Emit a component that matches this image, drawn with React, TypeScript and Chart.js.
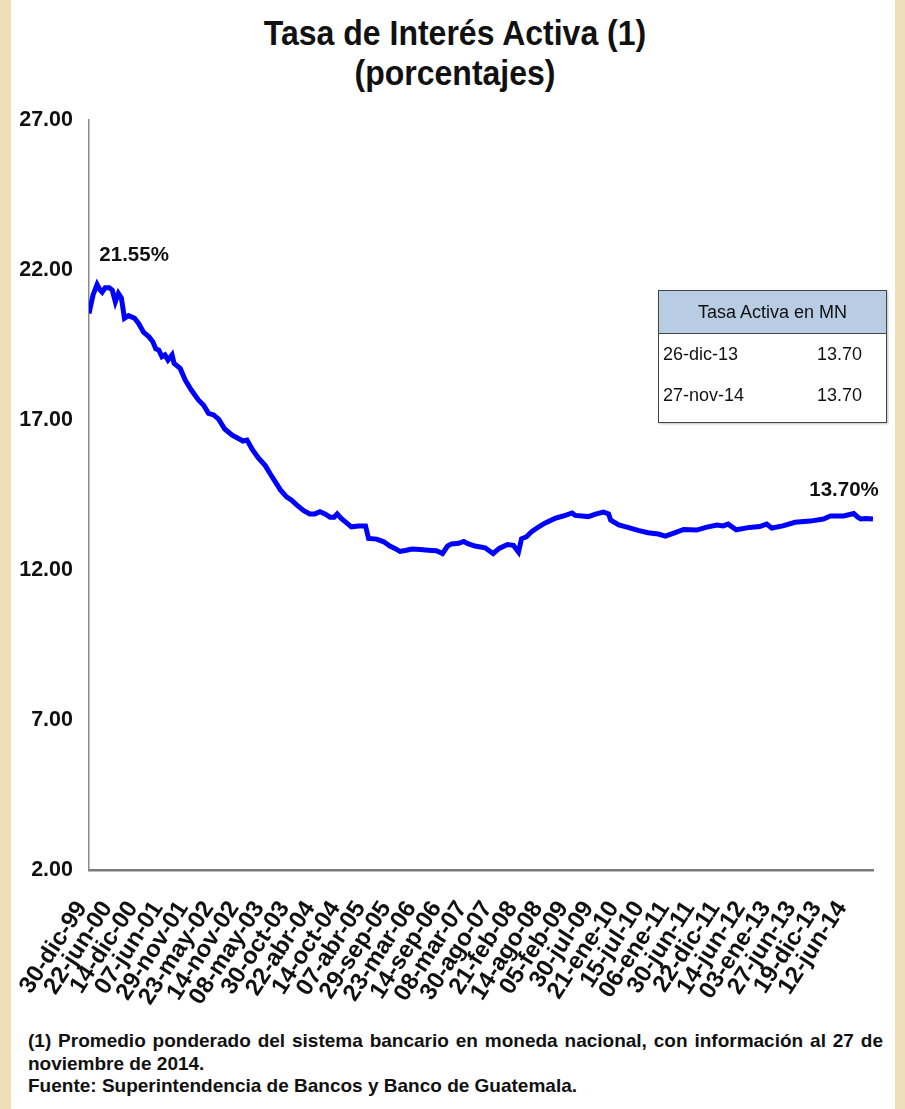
import React, { useEffect, useRef } from "react";
import { Chart, registerables } from "chart.js";

Chart.register(...registerables);

// ---- data ----
const tickLabels = [
  "30-dic-99", "22-jun-00", "14-dic-00", "07-jun-01", "29-nov-01", "23-may-02",
  "14-nov-02", "08-may-03", "30-oct-03", "22-abr-04", "14-oct-04", "07-abr-05",
  "29-sep-05", "23-mar-06", "14-sep-06", "08-mar-07", "30-ago-07", "21-feb-08",
  "14-ago-08", "05-feb-09", "30-jul-09", "21-ene-10", "15-jul-10", "06-ene-11",
  "30-jun-11", "22-dic-11", "14-jun-12", "03-ene-13", "27-jun-13", "19-dic-13",
  "12-jun-14",
];
const weeksPerTick = 25;
const lastWeek = 774;

// week number (since 30-dic-99) of each read point
const weekIndex = [
  0, 4, 8, 11, 13, 16, 20, 23, 26, 29,
  32, 35, 39, 45, 49, 54, 59, 63, 66, 69,
  72, 75, 78, 82, 84, 90, 95, 101, 108, 113,
  118, 123, 128, 134, 141, 147, 152, 156, 161, 167,
  174, 179, 189, 195, 200, 205, 212, 218, 223, 228,
  233, 238, 242, 245, 249, 254, 259, 266, 273, 276,
  284, 291, 297, 302, 307, 312, 319, 327, 335, 343,
  349, 354, 358, 365, 370, 374, 381, 391, 399, 405,
  413, 419, 424, 427, 432, 437, 444, 450, 460, 468,
  477, 480, 493, 500, 508, 513, 515, 523, 532, 542,
  552, 562, 569, 578, 587, 600, 610, 620, 626, 631,
  639, 652, 662, 669, 674, 685, 697, 712, 725, 732,
  745, 755, 759, 762, 767, 774,
];
const rates = [
  20.55, 21.17, 21.52, 21.33, 21.26, 21.41, 21.41, 21.33, 20.94, 21.22,
  21.06, 20.39, 20.48, 20.39, 20.22, 19.92, 19.78, 19.61, 19.37, 19.33,
  19.11, 19.17, 19.0, 19.17, 18.89, 18.72, 18.33, 18.0, 17.67, 17.5,
  17.22, 17.17, 17.03, 16.7, 16.5, 16.39, 16.3, 16.33, 16.03, 15.74,
  15.48, 15.2, 14.67, 14.44, 14.33, 14.17, 13.98, 13.87, 13.87, 13.94,
  13.87, 13.76, 13.76, 13.87, 13.72, 13.58, 13.44, 13.47, 13.47, 13.05,
  13.03, 12.94, 12.8, 12.72, 12.62, 12.65, 12.7, 12.68, 12.66, 12.64,
  12.55, 12.8, 12.87, 12.89, 12.95, 12.88, 12.8, 12.74, 12.55, 12.72,
  12.85, 12.82, 12.6, 13.04, 13.11, 13.28, 13.44, 13.56, 13.72, 13.8,
  13.9, 13.82, 13.78, 13.86, 13.93, 13.87, 13.66, 13.5, 13.42, 13.32,
  13.24, 13.2, 13.13, 13.24, 13.35, 13.33, 13.43, 13.5, 13.47, 13.53,
  13.34, 13.42, 13.45, 13.53, 13.4, 13.47, 13.59, 13.63, 13.7, 13.8,
  13.8, 13.88, 13.76, 13.7, 13.72, 13.7,
];
const yTicks = [2, 7, 12, 17, 22, 27];

const annotWeeks = [8, 774];
const annotValues = [21.55, 13.7];
const annotTexts = ["21.55%", "13.70%"];

const tableTitle = "Tasa Activa en MN";
const tableDates = ["26-dic-13", "27-nov-14"];
const tableValues = ["13.70", "13.70"];

const titleLines = ["Tasa de Interés Activa (1)", "(porcentajes)"];
const noteLines = [
  "(1) Promedio ponderado del sistema bancario en moneda nacional, con información al 27 de",
  "noviembre de 2014.",
  "Fuente: Superintendencia de Bancos y Banco de Guatemala.",
];

const SANS = '"Liberation Sans", Arial, Helvetica, sans-serif';

const annotPlugin = {
  id: "annot",
  afterDatasetsDraw(chart: any) {
    const { ctx, scales } = chart;
    const offsets = [
      [37, -28],
      [-29, -29],
    ];
    ctx.save();
    ctx.font = `bold 20.5px ${SANS}`;
    ctx.fillStyle = "#111";
    ctx.textAlign = "center";
    ctx.textBaseline = "middle";
    annotTexts.forEach((t, i) => {
      const x = scales.x.getPixelForValue(annotWeeks[i]);
      const y = scales.y.getPixelForValue(annotValues[i]);
      ctx.fillText(t, x + offsets[i][0], y + offsets[i][1]);
    });
    ctx.restore();
  },
};

function RateChart() {
  const ref = useRef<HTMLCanvasElement | null>(null);
  useEffect(() => {
    if (!ref.current) return;
    const chart = new Chart(ref.current, {
      type: "line",
      data: {
        datasets: [
          {
            data: weekIndex.map((w, i) => ({ x: w, y: rates[i] })),
            borderColor: "#0000ff",
            borderWidth: 5,
            pointRadius: 0,
            tension: 0,
            fill: false,
          },
        ],
      },
      options: {
        animation: false,
        responsive: false,
        devicePixelRatio: 1,
        layout: { padding: { top: 120, right: 32, left: 0, bottom: 0 } },
        plugins: { legend: { display: false }, tooltip: { enabled: false }, title: { display: false } },
        scales: {
          x: {
            type: "linear",
            min: 0,
            max: lastWeek,
            afterFit: (s: any) => {
              s.height = 1025 - 870;
            },
            afterBuildTicks: (s: any) => {
              s.ticks = tickLabels.map((_, i) => ({ value: i * weeksPerTick }));
            },
            grid: { display: false, drawTicks: false },
            border: { display: true, color: "#7a7a7a", width: 2.5 },
            ticks: {
              autoSkip: false,
              maxRotation: 57,
              minRotation: 57,
              padding: 26,
              labelOffset: -7,
              color: "#111",
              font: { family: SANS, size: 24, weight: "bold" },
              callback: (_v: any, i: number) => tickLabels[i],
            },
          },
          y: {
            min: 2,
            max: 27,
            afterFit: (s: any) => {
              s.width = 89;
            },
            afterBuildTicks: (s: any) => {
              s.ticks = yTicks.map((v) => ({ value: v }));
            },
            grid: { display: false, drawTicks: false },
            border: { display: true, color: "#8a8a8a", width: 1.5 },
            ticks: {
              padding: 16,
              color: "#111",
              font: { family: SANS, size: 21.5, weight: "bold" },
              callback: (v: any) => Number(v).toFixed(2),
            },
          },
        },
      },
      plugins: [annotPlugin],
    });
    return () => chart.destroy();
  }, []);
  return (
    <canvas
      ref={ref}
      width={905}
      height={1025}
      style={{ position: "absolute", left: 0, top: 0, width: 905, height: 1025 }}
    />
  );
}

export default function App() {
  useEffect(() => {
    document.body.style.margin = "0";
  }, []);
  const cell: React.CSSProperties = { fontFamily: SANS, fontSize: 18, color: "#111" };
  return (
    <div style={{ position: "relative", width: 905, height: 1109, background: "#efdfb9", overflow: "hidden" }}>
      <div style={{ position: "absolute", left: 11, top: 0, width: 884, height: 1109, background: "#fff" }} />
      <div
        style={{
          position: "absolute",
          left: 0,
          top: 17,
          width: 910,
          textAlign: "center",
          fontFamily: SANS,
          fontWeight: "bold",
          fontSize: 32,
          lineHeight: "36px",
          color: "#111",
          transform: "scaleY(1.1)",
          transformOrigin: "50% 50%",
        }}
      >
        {titleLines.map((l) => (
          <div key={l}>{l}</div>
        ))}
      </div>
      <RateChart />
      <div
        style={{
          position: "absolute",
          left: 658,
          top: 290,
          width: 227,
          height: 131,
          border: "1.5px solid #444",
          background: "#fff",
          boxShadow: "1px 1px 2px rgba(0,0,0,0.25)",
        }}
      >
        <div
          style={{
            ...cell,
            height: 42,
            lineHeight: "42px",
            textAlign: "center",
            background: "#b8cce4",
            borderBottom: "1.5px solid #444",
          }}
        >
          {tableTitle}
        </div>
        {tableDates.map((d, i) => (
          <div
            key={d}
            style={{
              ...cell,
              display: "flex",
              justifyContent: "space-between",
              padding: "0 24px 0 4px",
              height: 42,
              lineHeight: i === 0 ? "40px" : "38px",
            }}
          >
            <span>{d}</span>
            <span>{tableValues[i]}</span>
          </div>
        ))}
      </div>
      <div
        style={{
          position: "absolute",
          left: 28,
          top: 1030,
          width: 855,
          fontFamily: SANS,
          fontWeight: "bold",
          fontSize: 19,
          lineHeight: "22.5px",
          color: "#111",
        }}
      >
        <div style={{ textAlign: "justify", textAlignLast: "justify", whiteSpace: "nowrap" } as React.CSSProperties}>
          {noteLines[0]}
        </div>
        <div>{noteLines[1]}</div>
        <div>{noteLines[2]}</div>
      </div>
    </div>
  );
}
